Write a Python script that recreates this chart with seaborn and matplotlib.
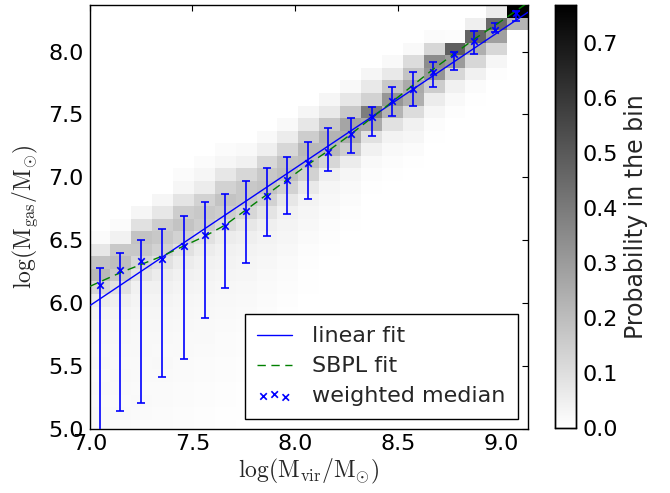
import numpy as np
import pandas as pd
import matplotlib
matplotlib.use("Agg")
import matplotlib.pyplot as plt
import seaborn as sns

# ---------------- data ----------------
# 2D histogram bins
x_edges = np.linspace(7.0, 9.13, 22)      # log M_vir bins (21 columns)
y_edges = np.linspace(4.97, 8.37, 35)     # log M_gas bins (34 rows)

# probability in each bin, one list per M_vir column, rows from top (8.37) to bottom (4.97)
col00 = [0]*18 + [.015,.075,.181,.211,.121,.060,.036,.030,.027,.024,.027,.021,.024,.021,.024,.021]
col01 = [0]*17 + [.015,.045,.166,.196,.166,.091,.051,.036,.030,.027,.024,.021,.024,.021,.018,.021,.018]
col02 = [0]*16 + [.030,.091,.181,.166,.121,.082,.045,.036,.030,.027,.024,.024,.021,.021,.018,.021,.018,.015]
col03 = [0]*15 + [.030,.075,.151,.166,.136,.091,.060,.045,.036,.030,.027,.024,.021,.024,.021,.018,.018,.015,.015]
col04 = [0]*13 + [.015,.030,.082,.151,.181,.136,.091,.060,.045,.036,.030,.027,.024,.021,.021,.018,.018,.015,.015,.012,.012]
col05 = [0]*12 + [.015,.030,.060,.136,.166,.151,.091,.060,.045,.039,.033,.027,.024,.021,.021,.018,.015,.015,.012,.012,.009,.009]
col06 = [0]*11 + [.015,.030,.075,.136,.181,.151,.106,.060,.045,.039,.033,.027,.024,.021,.018,.015,.015,.012,.012,.009,.009,.006,.006]
col07 = [0]*11 + [.021,.045,.121,.166,.166,.121,.075,.051,.039,.033,.030,.024,.021,.018,.015,.012,.012,.009,.009,.006,.006,.006,.003]
col08 = [0]*10 + [.021,.051,.121,.166,.181,.136,.082,.051,.039,.033,.027,.021,.018,.015,.012,.009,.009,.006,.006,.006,.003,.003,.003,.003]
col09 = [0]*9 + [.021,.060,.121,.181,.196,.136,.075,.045,.036,.030,.024,.018,.015,.012,.009,.006,.006,.003,.003,.003] + [0]*5
col10 = [0]*8 + [.030,.075,.151,.211,.196,.136,.069,.039,.030,.024,.018,.012,.009,.006,.006,.003] + [0]*10
col11 = [0]*7 + [.030,.069,.166,.226,.211,.121,.051,.030,.024,.018,.012,.009,.006,.003] + [0]*13
col12 = [0]*6 + [.021,.075,.166,.272,.242,.151,.060,.030,.021,.015,.009,.006,.003] + [0]*15
col13 = [0]*5 + [.030,.069,.136,.393,.257,.091,.045,.021,.012,.006,.003] + [0]*18
col14 = [0]*4 + [.021,.069,.166,.317,.226,.091,.039,.021,.012,.006] + [0]*20
col15 = [0]*3 + [.021,.106,.181,.257,.242,.106,.045,.030,.015,.006] + [0]*21
col16 = [0]*2 + [.015,.121,.347,.317,.151,.060,.030,.012,.006] + [0]*23
col17 = [0]*2 + [.012,.483,.302,.121,.045,.021,.009] + [0]*25
col18 = [0]*1 + [.051,.468,.242,.121,.045,.015,.006] + [0]*26
col19 = [.060,.453,.287,.121,.030,.009] + [0]*28
col20 = [.770,.226] + [0]*32
prob_columns = [col00, col01, col02, col03, col04, col05, col06, col07, col08, col09, col10,
                col11, col12, col13, col14, col15, col16, col17, col18, col19, col20]

# weighted median and its spread per M_vir bin
mvir_centres = [7.05, 7.15, 7.25, 7.35, 7.46, 7.56, 7.66, 7.76, 7.86, 7.96, 8.06,
                8.16, 8.27, 8.37, 8.47, 8.57, 8.67, 8.77, 8.87, 8.97, 9.07]
median_gas = [6.14, 6.26, 6.33, 6.35, 6.45, 6.54, 6.61, 6.73, 6.85, 6.98, 7.11,
              7.20, 7.34, 7.48, 7.61, 7.70, 7.84, 7.98, 8.08, 8.175, 8.305]
upper_gas = [6.28, 6.40, 6.50, 6.59, 6.69, 6.80, 6.87, 6.97, 7.07, 7.16, 7.28,
             7.39, 7.47, 7.56, 7.72, 7.84, 7.92, 8.00, 8.16, 8.23, 8.325]
lower_gas = [4.60, 5.14, 5.20, 5.41, 5.55, 5.88, 6.12, 6.32, 6.53, 6.71, 6.83,
             7.05, 7.19, 7.33, 7.49, 7.57, 7.72, 7.85, 7.98, 8.155, 8.245]

# fits
linear_x = [7.0, 9.13]
linear_y = [5.976, 8.313]
sbpl_x = [7.0, 7.15, 7.35, 7.56, 7.66, 7.76, 7.86, 7.96, 8.06, 8.16, 8.26,
          8.47, 8.67, 8.77, 8.87, 8.98, 9.13]
sbpl_y = [6.13, 6.24, 6.37, 6.53, 6.62, 6.74, 6.86, 6.98, 7.10, 7.21, 7.33,
          7.60, 7.86, 7.98, 8.10, 8.22, 8.39]

# ---------------- style ----------------
sns.set_style("white")
plt.rcParams.update({
    "font.family": ["DejaVu Sans"],
    "mathtext.fontset": "cm",
    "xtick.direction": "in",
    "ytick.direction": "in",
    "xtick.top": True,
    "ytick.right": True,
    "xtick.major.size": 4,
    "ytick.major.size": 4,
    "xtick.major.width": 0.8,
    "ytick.major.width": 0.8,
    "axes.edgecolor": "black",
    "axes.linewidth": 1.0,
    "xtick.color": "black",
    "ytick.color": "black",
})

fig = plt.figure(figsize=(6.7, 4.93), dpi=100)
ax = fig.add_axes([0.1336, 0.1308, 0.6545, 0.859])
cax = fig.add_axes([0.8284, 0.1318, 0.0313, 0.858])

# histogram table from the per-column probabilities
x_c = 0.5 * (x_edges[:-1] + x_edges[1:])
y_c = 0.5 * (y_edges[:-1] + y_edges[1:])[::-1]   # top to bottom
rows = []
for xi, col in zip(x_c, prob_columns):
    for yi, p in zip(y_c, col):
        rows.append((xi, yi, p))
hist_df = pd.DataFrame(rows, columns=["mvir", "mgas", "prob"])

sns.histplot(data=hist_df, x="mvir", y="mgas", weights="prob", bins=(x_edges, y_edges),
             cmap="gray_r", vmax=0.77, ax=ax, cbar=True, cbar_ax=cax,
             cbar_kws={"label": "Probability in the bin"})

med = np.array(median_gas)
yerr = [med - np.array(lower_gas), np.array(upper_gas) - med]
ax.errorbar(mvir_centres, median_gas, yerr=yerr, fmt="none", ecolor="blue",
            elinewidth=1.2, capsize=3, capthick=1.2, zorder=3)

sns.lineplot(x=linear_x, y=linear_y, color="blue", lw=1.0, ax=ax,
             label="linear fit", estimator=None, sort=False, zorder=4)
sns.lineplot(x=sbpl_x, y=sbpl_y, color=(0, 0.5, 0), lw=1.0, ax=ax, dashes=False,
             label="SBPL fit", estimator=None, sort=False, zorder=4)
ax.lines[-1].set_linestyle((0, (6, 4)))
sns.scatterplot(x=mvir_centres, y=median_gas, marker="x", color="blue", s=22,
                linewidth=1.2, ax=ax, label="weighted median", zorder=5)

ax.set_xlim(7.0, 9.13)
ax.set_ylim(5.0, 8.37)
ax.set_xticks([7.0, 7.5, 8.0, 8.5, 9.0])
ax.set_yticks([5.0, 5.5, 6.0, 6.5, 7.0, 7.5, 8.0])
ax.set_xticklabels(["7.0", "7.5", "8.0", "8.5", "9.0"])
ax.set_yticklabels(["5.0", "5.5", "6.0", "6.5", "7.0", "7.5", "8.0"])
ax.tick_params(axis="both", labelsize=16, pad=4)
ax.set_xlabel(r"$\log(\mathrm{M_{vir}/M_{\odot}})$", fontsize=17, labelpad=2)
ax.set_ylabel(r"$\log(\mathrm{M_{gas}/M_{\odot}})$", fontsize=17, labelpad=6)
for s in ax.spines.values():
    s.set_visible(True)
    s.set_color("black")

handles, labels = ax.get_legend_handles_labels()
order = [labels.index(l) for l in ["linear fit", "SBPL fit", "weighted median"]]
leg = ax.legend([handles[i] for i in order], [labels[i] for i in order],
                loc="lower right", fontsize=16, scatterpoints=3,
                scatteryoffsets=[0.375, 0.5, 0.3125], fancybox=False,
                framealpha=1, edgecolor="black", handlelength=1.6,
                handletextpad=0.9, labelspacing=0.45, borderpad=0.55,
                borderaxespad=0.45)
leg.get_frame().set_linewidth(1.0)

cax.set_yticks([0.0, 0.1, 0.2, 0.3, 0.4, 0.5, 0.6, 0.7])
cax.set_yticklabels(["0.0", "0.1", "0.2", "0.3", "0.4", "0.5", "0.6", "0.7"])
cax.tick_params(axis="y", labelsize=16, direction="in", length=4, pad=5, right=True, left=False)
cax.yaxis.label.set_size(17)
cax.yaxis.labelpad = 4
for s in cax.spines.values():
    s.set_visible(True)
    s.set_color("black")

fig.savefig("out.png", dpi=100)
